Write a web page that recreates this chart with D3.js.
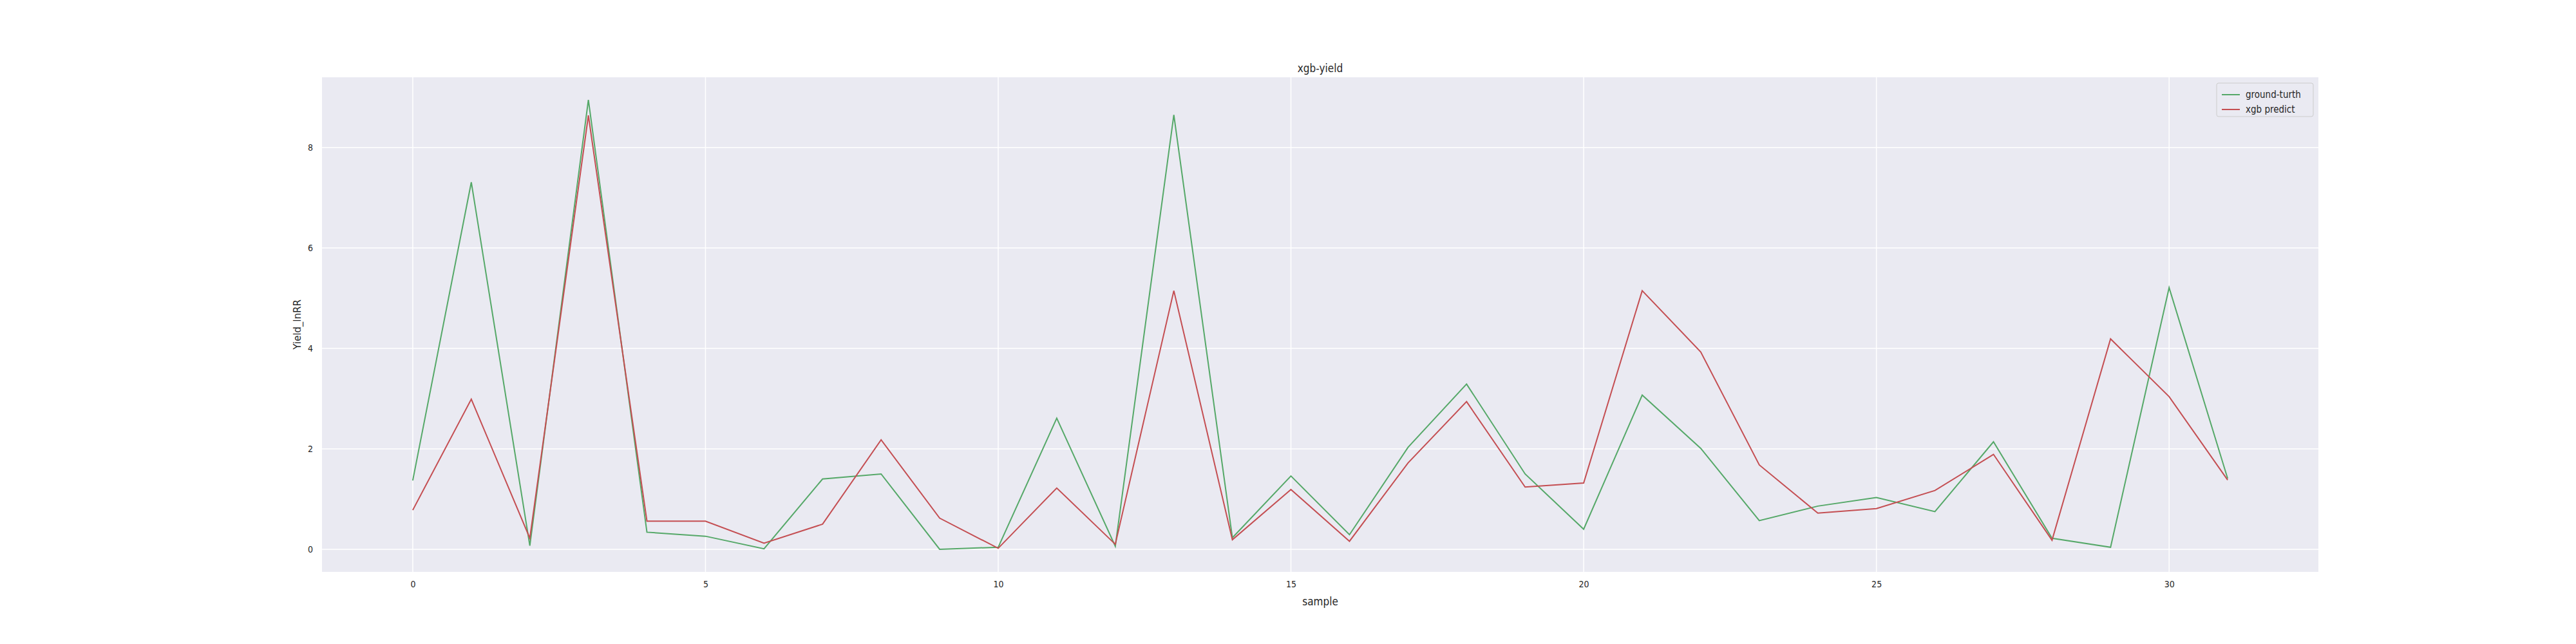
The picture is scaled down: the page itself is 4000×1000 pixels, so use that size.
<!DOCTYPE html>
<html><head><meta charset="utf-8">
<script src="https://cdn.jsdelivr.net/npm/d3@7"></script>
<style>body{margin:0;background:#fff}</style>
</head><body><div id="chart"></div>
<script>
// data
var samples = d3.range(32);
var groundTruth = [1.37,7.31,0.07,8.95,0.34,0.26,0.01,1.40,1.50,0.00,0.04,2.61,0.06,8.65,0.23,
  1.46,0.29,2.03,3.29,1.50,0.40,3.07,2.01,0.57,0.86,1.03,0.75,2.14,0.22,0.04,5.21,1.41];
var xgbPredict = [0.78,2.99,0.22,8.64,0.56,0.56,0.12,0.50,2.18,0.62,0.02,1.22,0.10,5.15,0.19,
  1.19,0.16,1.72,2.94,1.24,1.32,5.15,3.93,1.68,0.72,0.81,1.17,1.89,0.18,4.19,3.04,1.38];
var xTicks = [0,5,10,15,20,25,30];
var yTicks = [0,2,4,6,8];
var seriesNames = ["ground-turth","xgb predict"];
var seriesColors = ["#55a868","#c44e52"];

var W = 4000, H = 1000;
var margin = {top:120, right:400, bottom:112, left:500},
    width = W - margin.left - margin.right,
    height = H - margin.top - margin.bottom;
var narrow = "'Liberation Sans Narrow','DejaVu Sans Condensed',sans-serif";

var svg = d3.select("#chart").append("svg").attr("width", W).attr("height", H);
var g = svg.append("g").attr("transform", "translate(" + margin.left + "," + margin.top + ")");

var x = d3.scaleLinear().domain([-1.55, 32.55]).range([0, width]);
var y = d3.scaleLinear().domain([-0.45, 9.4]).range([height, 0]);

g.append("rect").attr("width", width).attr("height", height).attr("fill", "#eaeaf2");

//grid
g.selectAll(".vg").data(xTicks).enter().append("line")
  .attr("x1", d => x(d)).attr("x2", d => x(d)).attr("y1", 0).attr("y2", height)
  .attr("stroke", "#fff").attr("stroke-width", 1.5);
g.selectAll(".hg").data(yTicks).enter().append("line")
  .attr("y1", d => y(d)).attr("y2", d => y(d)).attr("x1", 0).attr("x2", width)
  .attr("stroke", "#fff").attr("stroke-width", 1.5);

//axes
var xAxis = g.append("g").attr("transform", "translate(0," + height + ")")
  .call(d3.axisBottom(x).tickValues(xTicks).tickSize(0).tickPadding(14));
var yAxis = g.append("g").call(d3.axisLeft(y).tickValues(yTicks).tickSize(0).tickPadding(14));
[xAxis, yAxis].forEach(function(a){
  a.select(".domain").remove();
  a.selectAll("text").attr("font-family", narrow).attr("font-size", 14).attr("fill", "#262626");
});

//lines
var line = d3.line().x((d, i) => x(samples[i])).y(d => y(d));
[groundTruth, xgbPredict].forEach(function(s, k){
  g.append("path").datum(s).attr("d", line).attr("fill", "none")
    .attr("stroke", seriesColors[k]).attr("stroke-width", 2);
});

//labels
svg.append("text").attr("x", margin.left + width/2).attr("y", 112).attr("text-anchor", "middle")
  .attr("font-family", narrow).attr("font-size", 17).attr("fill", "#262626").text("xgb-yield");
svg.append("text").attr("x", margin.left + width/2).attr("y", 940).attr("text-anchor", "middle")
  .attr("font-family", narrow).attr("font-size", 17).attr("fill", "#262626").text("sample");
svg.append("text").attr("transform", "translate(467," + (margin.top + height/2) + ") rotate(-90)")
  .attr("text-anchor", "middle").attr("font-family", "'DejaVu Sans',sans-serif").attr("font-size", 15)
  .attr("fill", "#262626").text("Yield_lnRR");

//legend
var lg = g.append("g").attr("transform", "translate(" + (width - 158) + ",9)");
lg.append("rect").attr("width", 150).attr("height", 52).attr("rx", 3)
  .attr("fill", "#eaeaf2").attr("stroke", "#ccc").attr("stroke-width", 1);
seriesNames.forEach(function(n, i){
  var yy = 18 + i * 23;
  lg.append("line").attr("x1", 8).attr("x2", 36).attr("y1", yy).attr("y2", yy)
    .attr("stroke", seriesColors[i]).attr("stroke-width", 2);
  lg.append("text").attr("x", 45).attr("y", yy + 5).attr("font-family", narrow)
    .attr("font-size", 15).attr("fill", "#262626").text(n);
});
</script></body></html>
